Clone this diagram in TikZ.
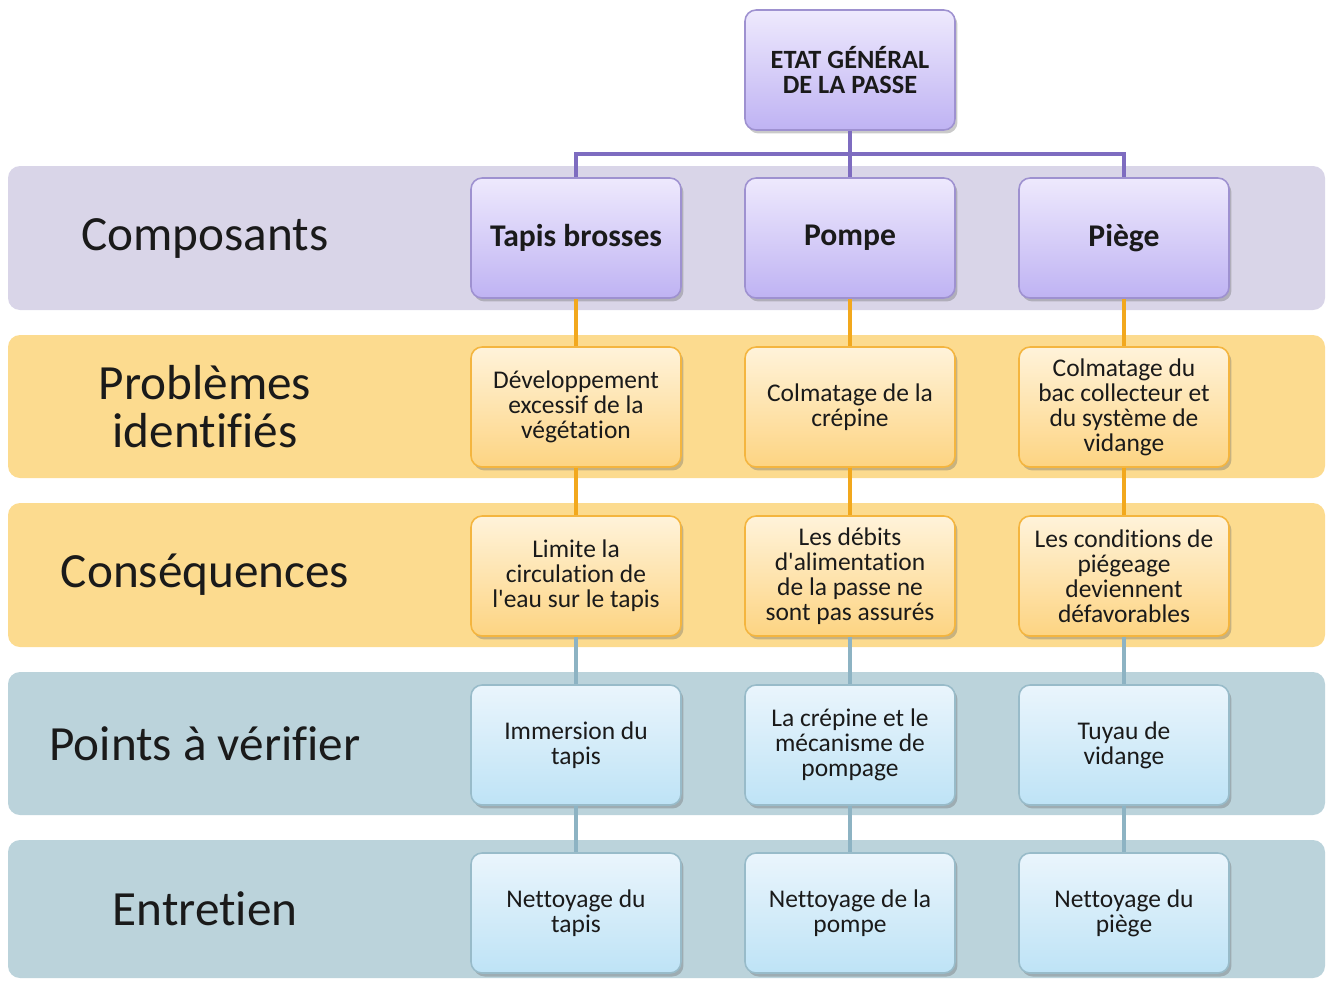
\documentclass[tikz,border=0pt]{standalone}
\usepackage{fontspec}
\setmainfont{Carlito}[Ligatures = NoCommon]
\usepackage{tikz}
\usetikzlibrary{shadows,calc}
\definecolor{bandlilac}{RGB}{217,213,232}
\definecolor{bandsand}{RGB}{252,219,143}
\definecolor{bandsteel}{RGB}{187,211,219}
\definecolor{inklilac}{RGB}{126,108,192}
\definecolor{inksand}{RGB}{242,168,29}
\definecolor{inksteel}{RGB}{141,179,195}
\definecolor{textdark}{RGB}{26,26,26}
\tikzset{
	band/.style = {fill = #1, rounded corners = 0.24cm},
	rowlabel/.style = {align = center, text = textdark,
		font = \fontsize{28}{27}\selectfont},
	box/.style = {rounded corners = 0.22cm, minimum width = 4.2cm,
		minimum height = 2.4cm, align = center, text = textdark,
		line width = 0.9pt, inner sep = 2pt,
		font = \fontsize{14.5}{14.2}\selectfont,
		drop shadow = {shadow xshift = 0.05cm, shadow yshift = -0.07cm,
			opacity = 0.35, fill = black!60}},
	lilacbox/.style = {box, draw = inklilac!75, top color = {rgb,255:red,238;green,233;blue,253},
		bottom color = {rgb,255:red,191;green,179;blue,243}},
	sandbox/.style = {box, draw = inksand!85, top color = {rgb,255:red,255;green,243;blue,218},
		bottom color = {rgb,255:red,253;green,212;blue,130}},
	steelbox/.style = {box, draw = inksteel!90, top color = {rgb,255:red,234;green,245;blue,252},
		bottom color = {rgb,255:red,190;green,227;blue,246}},
	link/.style = {draw = #1, line width = 0.08cm}
}

\begin{document}
\begin{tikzpicture}[x = 0.02cm, y = -0.02cm]
	
	\useasboundingbox (0,0) rectangle (1331,980);
	
	% bands
	\foreach \n/\t/\b/\c in {1/166/310/bandlilac, 2/335/478/bandsand,
		3/503/647/bandsand, 4/672/815/bandsteel, 5/840/978/bandsteel} {
		\fill[band = \c] (8,\t) rectangle (1325,\b);
		\coordinate (band\n) at (205,{(\t+\b)/2});
	}
	
	% row labels
	\node[rowlabel] (lblcomp) at (band1) {Composants};
	\node[rowlabel] (lblprob) at (band2) {Problèmes\\identifiés};
	\node[rowlabel] (lblcons) at (band3) {Conséquences};
	\node[rowlabel] (lblpts) at (band4) {Points à vérifier};
	\node[rowlabel] (lblent) at (band5) {Entretien};
	
	% top
	\node[lilacbox, font = \bfseries\fontsize{15}{14.2}\selectfont] (etat) at (850,70)
	{ETAT GÉNÉRAL\\DE LA PASSE};
	
	% components
	\node[lilacbox, font = \bfseries\fontsize{18}{18}\selectfont] (comp1) at (576,238) {Tapis brosses};
	\node[lilacbox, font = \bfseries\fontsize{18}{18}\selectfont] (comp2) at (850,238) {Pompe};
	\node[lilacbox, font = \bfseries\fontsize{18}{18}\selectfont] (comp3) at (1124,238) {Piège};
	
	% problems
	\node[sandbox] (prob1) at (576,407) {Développement\\excessif de la\\végétation};
	\node[sandbox] (prob2) at (850,407) {Colmatage de la\\crépine};
	\node[sandbox] (prob3) at (1124,407) {Colmatage du\\bac collecteur et\\du système de\\vidange};
	
	% consequences
	\node[sandbox] (cons1) at (576,576) {Limite la\\circulation de\\l\textquotesingle eau sur le tapis};
	\node[sandbox] (cons2) at (850,576) {Les débits\\d\textquotesingle alimentation\\de la passe ne\\sont pas assurés};
	\node[sandbox] (cons3) at (1124,576) {Les conditions de\\piégeage\\deviennent\\défavorables};
	
	% checks
	\node[steelbox] (pts1) at (576,745) {Immersion du\\tapis};
	\node[steelbox] (pts2) at (850,745) {La crépine et le\\mécanisme de\\pompage};
	\node[steelbox] (pts3) at (1124,745) {Tuyau de\\vidange};
	
	% maintenance
	\node[steelbox] (ent1) at (576,913) {Nettoyage du\\tapis};
	\node[steelbox] (ent2) at (850,913) {Nettoyage de la\\pompe};
	\node[steelbox] (ent3) at (1124,913) {Nettoyage du\\piège};
	
	% links
	\draw[link = inklilac] (etat.south) -- (comp2.north);
	\coordinate (bus) at ($(etat.south)+(0,23)$);
	\draw[link = inklilac] (comp1.north) |- (bus) -| (comp3.north);
	\foreach \i in {1,2,3} {
		\draw[link = inksand] (comp\i) -- (prob\i);
		\draw[link = inksand] (prob\i) -- (cons\i);
		\draw[link = inksteel] (cons\i) -- (pts\i);
		\draw[link = inksteel] (pts\i) -- (ent\i);
	}
	
\end{tikzpicture}
\end{document}
